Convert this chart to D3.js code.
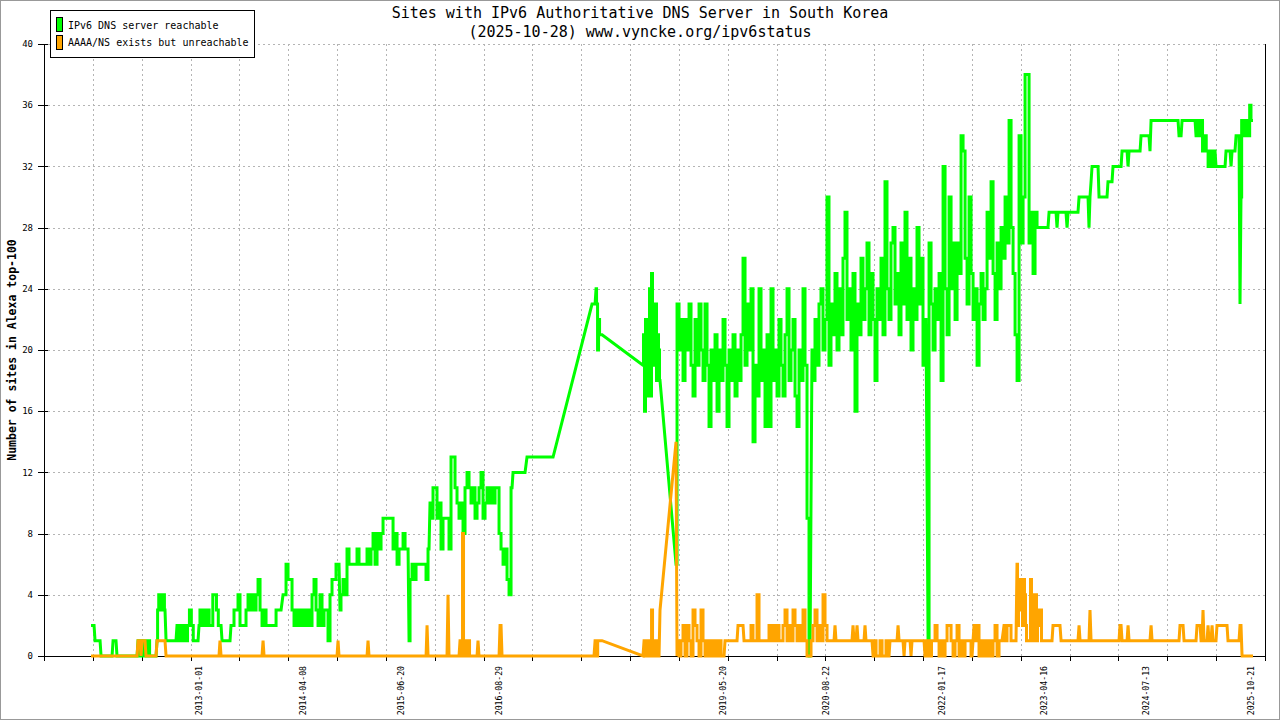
<!DOCTYPE html>
<html>
<head>
<meta charset="utf-8">
<script src="https://cdn.jsdelivr.net/npm/d3@7"></script>
<style>
  html, body { margin: 0; padding: 0; background: #fff; }
  svg { display: block; }
  text { font-family: "DejaVu Sans Mono", "Liberation Mono", monospace; fill: #000; }
</style>
</head>
<body>
<svg id="chart" width="1280" height="720"></svg>
<script>
// ---------------- DATA ----------------
const titleLines = ["Sites with IPv6 Authoritative DNS Server in South Korea",
                    "(2025-10-28) www.vyncke.org/ipv6status"];
const yAxisTitle = "Number of sites in Alexa top-100";
const seriesNames = ["IPv6 DNS server reachable", "AAAA/NS exists but unreachable"];
const seriesColors = ["#00ff00", "#ffa500"];
const yTicks = [0, 4, 8, 12, 16, 20, 24, 28, 32, 36, 40];
const xLabelDates = ["2013-01-01", "2014-04-08", "2015-06-20", "2016-08-29", "2019-05-20",
                     "2020-08-22", "2022-01-17", "2023-04-16", "2024-07-13", "2025-10-21"];
const xDomainYears = [2011.118, 2025.972];   // decimal years
const xTickCount = 25;                        // intervals between grid ticks

// pieces: [startYear, endYear, values...] values spread evenly between start and end
const greenPieces = [
  [2011.690, 2011.727, 2, 2],
  [2011.739, 2011.800, 1, 1],
  [2011.812, 2011.946, 0, 0],
  [2011.958, 2011.994, 1, 1],
  [2012.006, 2012.250, 0, 0],
  [2012.262, 2012.481, 1, 0, 1, 0, 1, 0, 0, 0],
  [2012.493, 2012.590, 1, 3, 4, 3, 4, 3, 4, 3],
  [2012.603, 2012.724, 1, 1],
  [2012.736, 2012.992, 2, 1, 2, 1, 2, 1, 2, 3, 2, 1, 1, 1],
  [2013.004, 2013.272, 2, 3, 2, 3, 2, 3, 2, 2, 4, 4, 3, 2, 2],
  [2013.284, 2013.381, 1, 1],
  [2013.393, 2014.002, 2, 2, 3, 3, 4, 2, 2, 2, 3, 4, 3, 4, 3, 4, 5, 3, 2, 3, 2, 2, 2, 2, 2, 3, 3, 3],
  [2014.026, 2014.707, 4, 4, 6, 5, 5, 3, 2, 3, 2, 3, 2, 3, 2, 3, 2, 4, 5, 3, 2, 4, 2, 3, 3, 1, 4, 5, 5, 6, 6],
  [2014.719, 2015.547, 3, 4, 5, 4, 7, 6, 6, 6, 6, 7, 6, 6, 6, 6, 7, 6, 7, 8, 6, 8, 7, 8, 9, 9, 9, 9, 9, 7, 8, 6, 7, 7, 8, 7, 7],
  [2015.559, 2015.802, 1, 5, 6, 5, 6, 6, 6, 6, 6, 5, 7],
  [2015.814, 2016.812, 10, 9, 11, 11, 9, 10, 7, 9, 9, 9, 7, 13, 13, 11, 10, 9, 10, 8, 11, 12, 11, 10, 11, 9, 10, 11, 12, 9, 10, 11, 10, 11, 10, 11, 11, 8, 7, 6, 7, 5, 4, 11],
  [2016.824, 2016.970, 12, 12],
  [2016.994, 2017.311, 13, 13],
  [2017.785, 2017.822, 23, 23],
  [2017.834, 2017.907, 24, 23, 20, 22, 21, 21, 21],
  [2018.405, 2018.612, 19, 21, 16, 22, 17, 22, 18, 24, 17, 25, 20, 22, 19, 23, 18, 21, 20, 18],
  [2018.807, 2020.437, 6, 23, 20, 22, 18, 22, 20, 23, 19, 17, 22, 19, 23, 20, 18, 23, 19, 15, 20, 18, 21, 16, 20, 18, 22, 19, 15, 20, 18, 21, 17, 20, 18, 21, 26, 19, 23, 20, 24, 14, 19, 17, 24, 18, 20, 15, 21, 15, 24, 18, 20, 17, 22, 19, 17, 21, 24, 18, 20, 22, 17, 15, 20, 18, 24, 19, 9, 0],
  [2020.461, 2021.848, 20, 18, 22, 19, 23, 24, 20, 22, 30, 19, 23, 21, 25, 20, 24, 21, 26, 29, 22, 24, 20, 25, 16, 23, 21, 26, 22, 24, 27, 21, 25, 22, 18, 24, 22, 26, 21, 31, 24, 22, 27, 28, 23, 25, 21, 27, 23, 29, 22, 26, 20, 24, 22, 28, 23, 26, 19, 22],
  [2021.873, 2023.114, 1, 27, 23, 20, 24, 22, 25, 18, 32, 24, 21, 30, 24, 27, 22, 27, 25, 34, 33, 26, 23, 30, 25, 22, 24, 19, 23, 25, 22, 24, 29, 26, 31, 25, 22, 27, 24, 28, 26, 30, 27, 35, 28, 25, 21, 18, 34, 27, 30, 38, 38, 27],
  [2023.138, 2023.211, 29, 25, 29, 28],
  [2023.235, 2023.332, 28, 28],
  [2023.345, 2023.430, 29, 29],
  [2023.442, 2023.442, 28],
  [2023.454, 2023.551, 29, 29],
  [2023.564, 2023.564, 28],
  [2023.576, 2023.697, 29, 29],
  [2023.710, 2023.819, 30, 30],
  [2023.831, 2023.831, 28],
  [2023.843, 2023.843, 30],
  [2023.856, 2023.856, 31],
  [2023.868, 2023.941, 32, 32],
  [2023.953, 2024.050, 30, 30],
  [2024.062, 2024.111, 31, 31],
  [2024.123, 2024.221, 32, 32],
  [2024.233, 2024.294, 33, 33],
  [2024.306, 2024.306, 32],
  [2024.318, 2024.452, 33, 33],
  [2024.464, 2024.561, 34, 34],
  [2024.573, 2024.573, 33],
  [2024.586, 2024.914, 35, 35],
  [2024.926, 2024.951, 34, 34],
  [2024.963, 2025.121, 35, 35],
  [2025.133, 2025.291, 34, 35, 34, 35, 33, 34, 33, 32],
  [2025.303, 2025.364, 33, 32, 33],
  [2025.376, 2025.486, 32, 32],
  [2025.498, 2025.547, 33, 33],
  [2025.559, 2025.559, 32],
  [2025.571, 2025.607, 33, 33],
  [2025.620, 2025.656, 34, 34],
  [2025.668, 2025.668, 23],
  [2025.680, 2025.826, 30, 35, 34, 35, 34, 35, 34, 36, 35, 35]
];

const orangePieces = [
  [2011.690, 2012.250, 0, 0],
  [2012.262, 2012.286, 1, 1],
  [2012.298, 2012.298, 0],
  [2012.311, 2012.347, 1, 1],
  [2012.359, 2012.481, 0, 0],
  [2012.493, 2012.590, 1, 1],
  [2012.603, 2013.247, 0, 0],
  [2013.259, 2013.259, 1],
  [2013.272, 2013.770, 0, 0],
  [2013.783, 2013.783, 1],
  [2013.795, 2014.683, 0, 0],
  [2014.695, 2014.695, 1],
  [2014.707, 2015.048, 0, 0],
  [2015.060, 2015.060, 1],
  [2015.072, 2015.766, 0, 0],
  [2015.778, 2015.778, 2],
  [2015.790, 2016.021, 0, 0],
  [2016.033, 2016.033, 4],
  [2016.045, 2016.167, 0, 0],
  [2016.179, 2016.301, 1, 0, 1, 8, 1, 0, 1, 1, 0, 1, 0],
  [2016.313, 2016.386, 0, 0],
  [2016.398, 2016.398, 1],
  [2016.410, 2016.654, 0, 0],
  [2016.666, 2016.678, 2, 2],
  [2016.690, 2017.809, 0, 0],
  [2017.822, 2017.907, 1, 0, 1, 1, 1],
  [2018.405, 2018.405, 0],
  [2018.418, 2018.600, 1, 0, 1, 0, 1, 1, 0, 1, 3, 1, 0, 1, 0, 1, 1, 0],
  [2018.612, 2018.612, 3],
  [2018.807, 2018.807, 14],
  [2018.819, 2018.819, 0],
  [2018.831, 2019.391, 1, 0, 1, 2, 0, 2, 1, 0, 3, 2, 1, 0, 3, 1, 0, 1, 0, 1, 0, 1, 0, 1, 0, 0],
  [2019.403, 2019.549, 1, 1],
  [2019.561, 2019.622, 2, 2],
  [2019.634, 2020.656, 1, 1, 1, 1, 2, 1, 1, 4, 1, 1, 1, 1, 1, 2, 1, 2, 1, 2, 1, 1, 2, 3, 1, 2, 1, 3, 2, 1, 2, 1, 3, 1, 0, 0, 1, 2, 3, 1, 2, 1, 4, 2, 1],
  [2020.668, 2020.729, 1, 1],
  [2020.741, 2020.741, 2],
  [2020.753, 2020.948, 1, 1],
  [2020.960, 2020.960, 2],
  [2020.972, 2020.997, 1, 1],
  [2021.009, 2021.009, 2],
  [2021.021, 2021.094, 1, 1],
  [2021.106, 2021.106, 2],
  [2021.118, 2021.191, 1, 1],
  [2021.204, 2021.398, 0, 1, 0, 0, 1, 0, 0, 1, 0],
  [2021.410, 2021.496, 1, 1],
  [2021.508, 2021.508, 2],
  [2021.520, 2021.568, 1, 1],
  [2021.581, 2021.581, 0],
  [2021.593, 2021.654, 1, 1],
  [2021.666, 2021.666, 0],
  [2021.678, 2021.824, 1, 1],
  [2021.836, 2021.933, 0, 1, 0, 1, 0, 1, 0, 1, 1],
  [2021.946, 2022.408, 1, 2, 1, 0, 1, 0, 1, 2, 2, 1, 0, 1, 2, 0, 1, 0, 1, 1, 1, 0],
  [2022.432, 2022.773, 2, 1, 2, 0, 1, 0, 1, 0, 1, 0, 1, 2, 0, 1, 1],
  [2022.797, 2022.943, 2, 1, 2, 2, 1, 1, 1],
  [2022.955, 2023.259, 6, 2, 4, 5, 3, 5, 2, 5, 4, 2, 1, 1, 1, 1, 5, 4, 1, 4, 2, 4, 1, 3, 2, 3, 3, 1],
  [2023.272, 2023.381, 1, 1],
  [2023.393, 2023.478, 2, 2],
  [2023.491, 2023.697, 1, 1],
  [2023.710, 2023.710, 2],
  [2023.722, 2023.831, 1, 1],
  [2023.843, 2023.843, 3],
  [2023.856, 2024.196, 1, 1],
  [2024.208, 2024.221, 2, 2],
  [2024.233, 2024.294, 1, 1],
  [2024.306, 2024.306, 2],
  [2024.318, 2024.573, 1, 1],
  [2024.586, 2024.586, 2],
  [2024.598, 2024.926, 1, 1],
  [2024.938, 2024.975, 2, 2],
  [2024.987, 2025.133, 1, 1],
  [2025.145, 2025.182, 2, 2],
  [2025.194, 2025.206, 1, 1],
  [2025.218, 2025.218, 3],
  [2025.230, 2025.267, 1, 1],
  [2025.279, 2025.279, 2],
  [2025.291, 2025.315, 1, 1],
  [2025.328, 2025.328, 2],
  [2025.340, 2025.376, 1, 1],
  [2025.388, 2025.510, 2, 2],
  [2025.522, 2025.656, 1, 1],
  [2025.668, 2025.680, 2, 2],
  [2025.693, 2025.826, 0, 0]
];

// ---------------- HELPERS ----------------
// Expand pieces into drawing vertices: inside a piece samples are joined with
// mid-point steps (dense daily data look); pieces are joined by straight lines.
function expand(pieces) {
  const pts = [];
  for (const [s, e, ...vals] of pieces) {
    const n = vals.length;
    if (n === 1) { pts.push([s, vals[0]]); continue; }
    const t = vals.map((v, i) => s + (e - s) * i / (n - 1));
    pts.push([t[0], vals[0]]);
    for (let i = 1; i < n; i++) {
      const m = (t[i - 1] + t[i]) / 2;
      if (vals[i] !== vals[i - 1]) { pts.push([m, vals[i - 1]]); pts.push([m, vals[i]]); }
    }
    pts.push([t[n - 1], vals[n - 1]]);
  }
  return pts;
}
const MS_YEAR = 365.25 * 86400000;
function dateToYear(str) {
  return 2013 + (Date.parse(str + "T00:00:00Z") - Date.UTC(2013, 0, 1)) / MS_YEAR;
}

// ---------------- LAYOUT ----------------
const W = 1280, H = 720;
const plot = { left: 44, right: 1265, top: 44, bottom: 656 };
const svg = d3.select("#chart");

const x = d3.scaleLinear().domain(xDomainYears).range([plot.left, plot.right]);
const y = d3.scaleLinear().domain([0, 40]).range([plot.bottom, plot.top]);

// outer frame
svg.append("rect").attr("x", 0.5).attr("y", 0.5).attr("width", W - 1).attr("height", H - 1)
  .attr("fill", "#fff").attr("stroke", "#999");

// grid
const gridTicks = d3.range(xTickCount + 1).map(i => xDomainYears[0] + (xDomainYears[1] - xDomainYears[0]) * i / xTickCount);
const grid = svg.append("g").attr("stroke", "#b4b4b4").attr("stroke-width", 1)
  .attr("stroke-dasharray", "2,3").attr("shape-rendering", "crispEdges");
grid.selectAll("line.h").data(yTicks.filter(t => t > 0)).join("line")
  .attr("x1", plot.left + 4).attr("x2", plot.right)
  .attr("y1", d => Math.round(y(d)) + 0.5).attr("y2", d => Math.round(y(d)) + 0.5);
grid.selectAll("line.v").data(gridTicks.slice(1, -1)).join("line")
  .attr("x1", d => Math.round(x(d)) + 0.5).attr("x2", d => Math.round(x(d)) + 0.5)
  .attr("y1", plot.top).attr("y2", plot.bottom);

// axes
const axes = svg.append("g").attr("stroke", "#000").attr("stroke-width", 1).attr("shape-rendering", "crispEdges");
axes.append("line").attr("x1", plot.left + 0.5).attr("x2", plot.left + 0.5).attr("y1", plot.top).attr("y2", plot.bottom);
axes.append("line").attr("x1", plot.right + 0.5).attr("x2", plot.right + 0.5).attr("y1", plot.top).attr("y2", plot.bottom + 5);
axes.append("line").attr("x1", plot.left).attr("x2", plot.right).attr("y1", plot.bottom + 0.5).attr("y2", plot.bottom + 0.5);
axes.selectAll("line.yt").data(yTicks).join("line")
  .attr("x1", plot.left - 6).attr("x2", plot.left + 4)
  .attr("y1", d => Math.round(y(d)) + 0.5).attr("y2", d => Math.round(y(d)) + 0.5);
axes.selectAll("line.xt").data(gridTicks).join("line")
  .attr("x1", d => Math.round(x(d)) + 0.5).attr("x2", d => Math.round(x(d)) + 0.5)
  .attr("y1", plot.bottom).attr("y2", plot.bottom + 5);

// y tick labels
svg.append("g").selectAll("text").data(yTicks).join("text")
  .attr("x", 33).attr("y", d => y(d)).attr("dy", "0.35em")
  .attr("text-anchor", "end").attr("font-size", 9).text(d => d);

// x labels
svg.append("g").selectAll("text").data(xLabelDates).join("text")
  .attr("transform", d => `translate(${x(dateToYear(d))},666) rotate(-90)`)
  .attr("dy", "0.35em").attr("text-anchor", "end").attr("font-size", 8.2).text(d => d);

// y axis title
svg.append("text").attr("transform", "translate(12,350) rotate(-90)")
  .attr("text-anchor", "middle").attr("dy", "0.35em")
  .attr("font-size", 11.5).attr("font-weight", "bold").text(yAxisTitle);

// title
svg.append("g").selectAll("text").data(titleLines).join("text")
  .attr("x", 640).attr("y", (d, i) => 18 + i * 19)
  .attr("text-anchor", "middle").attr("font-size", 15).text(d => d);

// series
const line = d3.line().x(d => x(d[0])).y(d => y(d[1]));
[greenPieces, orangePieces].forEach((p, i) => {
  svg.append("path").datum(expand(p))
    .attr("fill", "none").attr("stroke", seriesColors[i]).attr("stroke-width", 3)
    .attr("stroke-linejoin", "miter").attr("stroke-miterlimit", 2).attr("d", line);
});

// legend
const lg = svg.append("g");
lg.append("rect").attr("x", 50.5).attr("y", 10.5).attr("width", 204).attr("height", 47)
  .attr("fill", "#fff").attr("stroke", "#000").attr("shape-rendering", "crispEdges");
seriesNames.forEach((name, i) => {
  lg.append("rect").attr("x", 56.5).attr("y", 17.5 + i * 17.5).attr("width", 6).attr("height", 14)
    .attr("fill", seriesColors[i]).attr("stroke", "#000").attr("shape-rendering", "crispEdges");
  lg.append("text").attr("x", 68).attr("y", 25 + i * 17.5).attr("dy", "0.35em")
    .attr("font-size", 10).text(name);
});
</script>
</body>
</html>
